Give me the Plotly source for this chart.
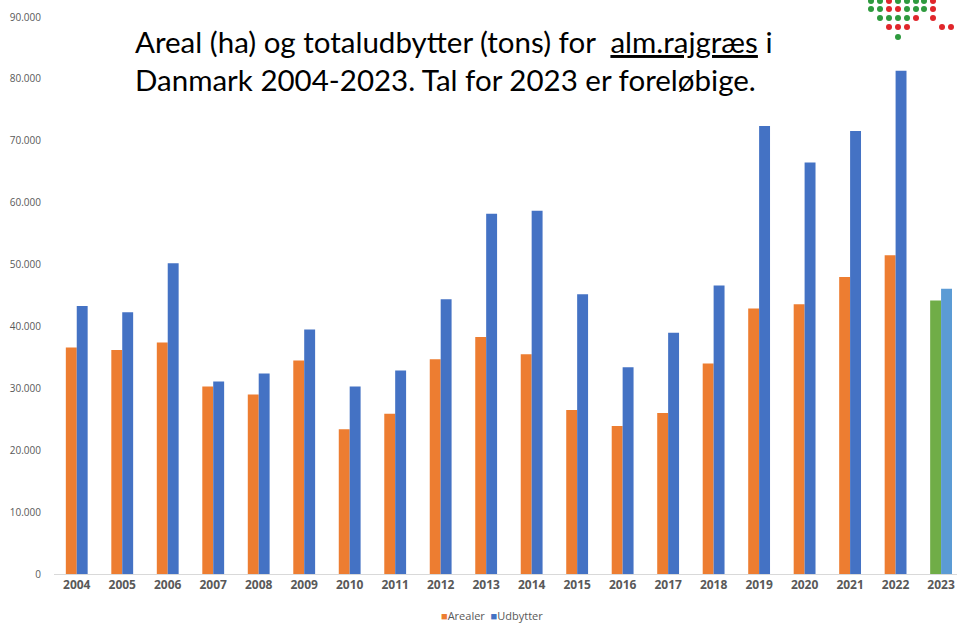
import plotly.graph_objects as go

years = [str(y) for y in range(2004, 2024)]
arealer = [36600, 36200, 37400, 30300, 29000, 34500, 23400, 25900, 34700, 38300,
           35500, 26500, 23900, 26000, 34000, 42900, 43600, 48000, 51500, 44200]
udbytter = [43300, 42300, 50200, 31100, 32400, 39500, 30300, 32900, 44400, 58200,
            58700, 45200, 33400, 39000, 46600, 72400, 66500, 71600, 81300, 46100]
y_ticks = list(range(0, 90001, 10000))
series_names = ["Arealer", "Udbytter"]

orange = "#ED7D31"
blue = "#4472C4"
green_2023 = "#70AD47"
lblue_2023 = "#5B9BD5"

a_colors = [orange] * (len(years) - 1) + [green_2023]
u_colors = [blue] * (len(years) - 1) + [lblue_2023]

fig = go.Figure()
fig.add_trace(go.Bar(x=years, y=arealer, name=series_names[0], marker=dict(color=a_colors, line=dict(width=0))))
fig.add_trace(go.Bar(x=years, y=udbytter, name=series_names[1], marker=dict(color=u_colors, line=dict(width=0))))

W, H = 957, 625
L, R, T, B = 54, 0, 17, 51
pw, ph = W - L - R, H - T - B

def px(x):
    return (x - L) / pw

def py(y):
    return (H - B - y) / ph

# logo dots (decoration)
logo = [
    (1, [(871, "g"), (880, "g"), (889, "r"), (898, "g"), (907, "g"), (916, "g"), (924, "g"), (933, "r")]),
    (9, [(871, "g"), (880, "g"), (889, "r"), (898, "r"), (907, "g"), (916, "g"), (924, "g"), (933, "r")]),
    (18, [(880, "g"), (889, "g"), (898, "g"), (907, "g"), (916, "r"), (933, "r")]),
    (27, [(889, "r"), (898, "r"), (907, "r"), (942, "r"), (951, "r")]),
    (37, [(898, "g")]),
]
shapes = []
for yy, dots in logo:
    for xx, c in dots:
        col = "#2E9A3E" if c == "g" else "#E0262B"
        shapes.append(dict(type="circle", xref="paper", yref="paper",
                           x0=px(xx - 3), x1=px(xx + 3), y0=py(yy + 3), y1=py(yy - 3),
                           fillcolor=col, line=dict(width=0), layer="above"))

legend_text = (f"<span style='color:{orange}'>■</span>{series_names[0]}  "
               f"<span style='color:{blue}'>■</span>{series_names[1]}")

fig.update_layout(
    width=W, height=H,
    margin=dict(l=L, r=R, t=T, b=B, autoexpand=False),
    paper_bgcolor="white", plot_bgcolor="white",
    separators=",.",
    barmode="group", bargap=0.52, bargroupgap=0,
    font=dict(family="Open Sans, sans-serif", color="#595959"),
    xaxis=dict(range=[-0.5, 19.35], showgrid=False, showline=True, linecolor="#D9D9D9",
               linewidth=1, ticks="", tickfont=dict(size=12, color="#595959", family="Open Sans"),
               tickprefix="<b>", ticksuffix="</b>", automargin=False),
    yaxis=dict(range=[0, 90000], tickvals=y_ticks, tickformat=",d", showgrid=False,
               zeroline=False, showline=False, ticks="", ticklabelstandoff=12,
               tickfont=dict(size=10, color="#595959"), automargin=False),
    showlegend=False,
    shapes=shapes,
    annotations=[
        dict(xref="paper", yref="paper", x=px(133), y=py(22), xanchor="left", yanchor="top",
             align="left", showarrow=False,
             text="Areal (ha) og totaludbytter (tons) for  <u>alm.rajgræs</u> i<br>Danmark 2004-2023. Tal for 2023 er foreløbige.",
             font=dict(size=29.5, color="#000000", family="Lato, sans-serif")),
        dict(xref="paper", yref="paper", x=px(492), y=py(615), xanchor="center", yanchor="middle",
             showarrow=False, text=legend_text, font=dict(size=11, color="#595959")),
    ],
)

fig.write_html("out.html", config={"displayModeBar": False},
               post_script="document.body.style.margin='0';document.body.style.overflow='hidden';")
